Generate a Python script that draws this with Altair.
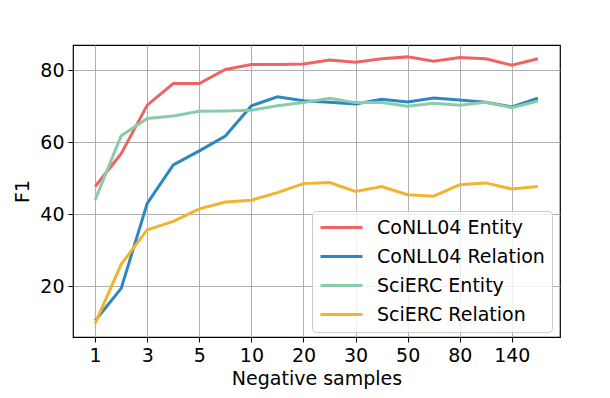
import altair as alt
import pandas as pd

tick_labels = ["1", "3", "5", "10", "20", "30", "50", "80", "140"]
tick_positions = [0, 2, 4, 6, 8, 10, 12, 14, 16]

idx = list(range(18))
conll_entity = [47.7, 56.8, 70.3, 76.3, 76.3, 80.2, 81.6, 81.6, 81.7, 82.8,
                82.2, 83.2, 83.7, 82.5, 83.5, 83.2, 81.4, 83.2]
conll_relation = [10.4, 19.4, 43.0, 53.7, 57.6, 61.7, 70.1, 72.6, 71.5, 71.1,
                  70.6, 71.9, 71.2, 72.3, 71.7, 71.1, 69.8, 72.2]
scierc_entity = [44.0, 61.8, 66.6, 67.3, 68.6, 68.7, 68.9, 70.1, 71.0, 72.2,
                 71.0, 71.0, 70.0, 70.8, 70.3, 71.1, 69.6, 71.4]
scierc_relation = [9.7, 26.1, 35.7, 38.0, 41.5, 43.4, 43.9, 46.0, 48.5, 48.8,
                   46.3, 47.7, 45.4, 45.0, 48.2, 48.7, 47.0, 47.7]

series_names = ["CoNLL04 Entity", "CoNLL04 Relation", "SciERC Entity", "SciERC Relation"]
series_values = [conll_entity, conll_relation, scierc_entity, scierc_relation]
colors = ["#EF6462", "#2E86C1", "#8ACBAA", "#F0B430"]

rows = []
for name, vals in zip(series_names, series_values):
    for i, v in zip(idx, vals):
        rows.append({"idx": i, "F1": v, "series": name})
df = pd.DataFrame(rows)

label_expr = "[" + ",".join(f"'{t}'" for t in tick_labels) + "][datum.value / 2]"

chart = alt.Chart(df).mark_line(strokeWidth=3).encode(
    x=alt.X("idx:Q",
            scale=alt.Scale(domain=[-0.85, 17.85], nice=False, zero=False),
            axis=alt.Axis(values=tick_positions, labelExpr=label_expr,
                          title="Negative samples")),
    y=alt.Y("F1:Q",
            scale=alt.Scale(domain=[5.9, 87.0], nice=False, zero=False),
            axis=alt.Axis(values=[20, 40, 60, 80], title="F1")),
    color=alt.Color("series:N",
                    scale=alt.Scale(domain=series_names, range=colors),
                    legend=alt.Legend(title=None, orient="none",
                                      legendX=239, legendY=166,
                                      symbolType="stroke", symbolSize=1764,
                                      symbolStrokeWidth=3,
                                      clipHeight=19,
                                      labelFontSize=19, labelFont="DejaVu Sans",
                                      labelColor="black", labelLimit=400,
                                      labelOffset=13, rowPadding=9,
                                      padding=7,
                                      fillColor="rgba(255,255,255,0.8)",
                                      strokeColor="#cccccc",
                                      cornerRadius=4)),
    order=alt.Order("idx:Q"),
).properties(
    width=487, height=292,
    autosize=alt.AutoSizeParams(type="none"),
    padding={"left": 65, "top": 37, "right": 42, "bottom": 53},
).configure_view(
    stroke="black", strokeWidth=1.2
).configure_axis(
    grid=True, gridColor="#b0b0b0", gridWidth=1,
    domain=False,
    tickColor="black", tickSize=5, tickWidth=1,
    labelFont="DejaVu Sans", labelFontSize=19, labelColor="black", labelPadding=4,
    titleFont="DejaVu Sans", titleFontSize=19, titleColor="black",
    titleFontWeight="normal",
).configure_axisX(
    titlePadding=4, labelFlush=False
).configure_axisY(
    titlePadding=7
)

chart.save("out.html", embed_options={"renderer": "svg", "actions": False})
